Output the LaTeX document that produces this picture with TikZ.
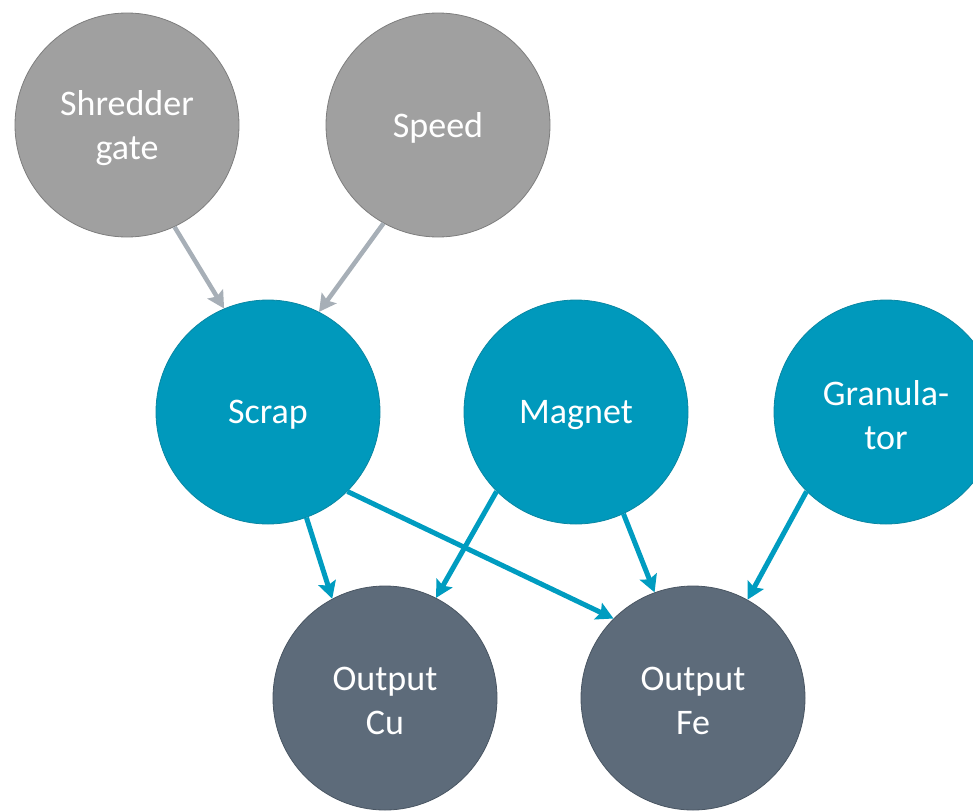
\documentclass[tikz,border=0pt]{standalone}
\usepackage{fontspec}
\setmainfont{Carlito}
\usetikzlibrary{arrows.meta}
\definecolor{grayfill}{HTML}{A0A0A0}
\definecolor{grayline}{HTML}{7E7E7E}
\definecolor{tealfill}{HTML}{0099BC}
\definecolor{tealline}{HTML}{0A87A3}
\definecolor{slatefill}{HTML}{5D6B7A}
\definecolor{slateline}{HTML}{4A5663}
\definecolor{grayarrow}{HTML}{A7AFB7}
\definecolor{tealarrow}{HTML}{009CC0}
\begin{document}
\begin{tikzpicture}[x=1pt,y=-1pt,
  bubble/.style={circle,minimum size=224pt,inner sep=0pt,line width=0.8pt},
  bubtext/.style={text=white,align=center,inner sep=0pt,
    font=\fontsize{36}{44}\selectfont,yshift=-3pt},
  graybubble/.style={bubble,fill=grayfill,draw=grayline},
  tealbubble/.style={bubble,fill=tealfill,draw=tealline},
  slatebubble/.style={bubble,fill=slatefill,draw=slateline},
  grayconn/.style={draw=grayarrow,line width=4.5pt,-{Stealth[length=17pt,width=18pt,inset=3pt]}},
  tealconn/.style={draw=tealarrow,line width=5pt,-{Stealth[length=17pt,width=18pt,inset=3pt]}}]
\useasboundingbox (0,0) rectangle (973,811);
\clip (0,0) rectangle (973,811);
\node[graybubble,label={[bubtext]center:Shredder\\gate}] (shred) at (127,125) {};
\node[graybubble,label={[bubtext]center:Speed}] (speed) at (438,125) {};
\node[tealbubble,label={[bubtext]center:Scrap}] (scrap) at (268,412) {};
\node[tealbubble,label={[bubtext]center:Magnet}] (magnet) at (576,412) {};
\node[tealbubble,label={[bubtext]center:Granula-\\tor}] (gran) at (886,412) {};
\node[slatebubble,label={[bubtext]center:Output\\Cu}] (cu) at (385,698) {};
\node[slatebubble,label={[bubtext]center:Output\\Fe}] (fe) at (693,698) {};
\draw[grayconn] (shred.-65) -- (scrap.113);
\draw[grayconn] (speed.-119) -- (scrap.63);
\draw[tealconn] (scrap.-70) -- (cu.118);
\draw[tealconn] (scrap.-45) -- (fe.135);
\draw[tealconn] (magnet.-135) -- (cu.63);
\draw[tealconn] (magnet.-65) -- (fe.110);
\draw[tealconn] (gran.-135) -- (fe.61);
\end{tikzpicture}
\end{document}
